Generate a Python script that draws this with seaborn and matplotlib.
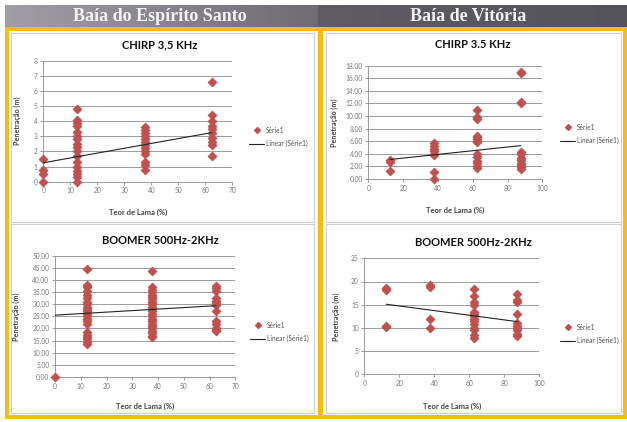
import numpy as np
import pandas as pd
import matplotlib
matplotlib.use('Agg')
import matplotlib.pyplot as plt
import seaborn as sns
from matplotlib.lines import Line2D
from matplotlib.patches import Rectangle

sns.set_theme(style='white')
plt.rcParams['font.family'] = ['Lato', 'DejaVu Sans']

# ---- data ----
# Baia do Espirito Santo - CHIRP 3,5 KHz
es_chirp_x = [0]*4 + [12.5]*17 + [37.5]*13 + [62.5]*10
es_chirp_y = [1.5, 0.8, 0.5, 0.0,
              4.8, 4.1, 3.9, 3.7, 3.3, 3.0, 2.8, 2.5, 2.3, 2.0, 1.7, 1.3, 1.0, 0.7, 0.5, 0.3, 0.0,
              3.6, 3.4, 3.2, 3.0, 2.8, 2.6, 2.4, 2.2, 2.0, 1.8, 1.3, 1.1, 0.8,
              6.6, 4.4, 4.0, 3.7, 3.5, 3.2, 2.9, 2.6, 2.4, 1.7]
es_chirp_trend_x = [0, 62.5]
es_chirp_trend_y = [1.25, 3.25]

# Baia de Vitoria - CHIRP 3.5 KHz
vi_chirp_x = [12.5]*3 + [37.5]*8 + [62.5]*14 + [87.5]*12
vi_chirp_y = [3.0, 2.7, 1.3,
              5.7, 5.2, 4.8, 4.4, 4.0, 3.8, 1.1, 0.0,
              11.0, 9.8, 9.5, 6.9, 6.6, 6.3, 6.0, 5.8, 3.9, 3.5, 2.8, 2.5, 2.0, 1.8,
              17.0, 16.8, 12.2, 12.0, 4.3, 3.9, 3.4, 3.0, 2.6, 2.2, 1.9, 1.6]
vi_chirp_trend_x = [12.5, 87.5]
vi_chirp_trend_y = [3.1, 5.3]

# Baia do Espirito Santo - BOOMER 500Hz-2KHz
es_boom_x = [0]*1 + [12.5]*22 + [37.5]*23 + [62.5]*13
es_boom_y = [0.0,
             44.5, 38, 37, 35.5, 34, 32.5, 31, 30, 29, 28, 27, 26, 25, 24, 23, 22,
             18.5, 17.5, 16.5, 15.5, 14.5, 13.8,
             43.5, 37, 36, 35, 34, 33, 32, 31, 30, 29, 28, 27, 26, 25, 24, 23, 22,
             21, 20, 19, 18, 17, 16.5,
             37.5, 36.5, 35.5, 32.5, 31.5, 30.5, 29.5, 27, 23, 22, 20, 19.5, 19]
es_boom_trend_x = [0, 62.5]
es_boom_trend_y = [25.5, 29.4]

# Baia de Vitoria - BOOMER 500Hz-2KHz
vi_boom_x = [12.5]*4 + [37.5]*4 + [62.5]*14 + [87.5]*10
vi_boom_y = [18.5, 18.2, 10.4, 10.2,
             19.2, 18.9, 11.9, 10.0,
             18.3, 16.8, 15.5, 15.0, 13.5, 13.0, 12.5, 12.0, 11.5, 10.8, 10.0, 9.5, 8.5, 7.8,
             17.4, 16.0, 15.5, 13.0, 11.0, 10.5, 10.0, 9.5, 8.7, 8.2]
vi_boom_trend_x = [12.5, 87.5]
vi_boom_trend_y = [15.1, 11.35]

W, H = 627, 422
fig = plt.figure(figsize=(W/100, H/100), dpi=100)
fig.patch.set_facecolor('white')

# ---- frame drawn in pixel coordinates ----
bg = fig.add_axes([0, 0, 1, 1])
grad = np.linspace(0, 1, 256).reshape(1, -1)
bg.imshow(grad, extent=[5, 318, 27, 5], cmap=matplotlib.colors.LinearSegmentedColormap.from_list(
    'hl', ['#a29ea8', '#6e6b73']), aspect='auto', zorder=1)
bg.imshow(grad, extent=[318, 627, 27, 5], cmap=matplotlib.colors.LinearSegmentedColormap.from_list(
    'hr', ['#5f5c64', '#55535a']), aspect='auto', zorder=1)
bg.set_xlim(0, W)
bg.set_ylim(H, 0)
bg.axis('off')
yellow = '#f4bd14'
for (x0, y0, w, h) in [(5, 27, 622, 4), (5, 27, 4, 392), (5, 415, 622, 4),
                       (623, 27, 4, 392), (318, 27, 5, 392)]:
    bg.add_patch(Rectangle((x0, y0), w, h, color=yellow, zorder=3, lw=0))
for (x0, y0, w, h) in [(11, 33, 303, 189), (326, 33, 295, 189),
                       (11, 224, 303, 189), (326, 224, 295, 189)]:
    bg.add_patch(Rectangle((x0, y0), w, h, fill=False, ec='#cfcfcf', lw=0.8, zorder=2))
bg.text(160, 16.5, 'Baía do Espírito Santo', ha='center', va='center', color='#f4f4f4',
        fontsize=13, fontweight='bold', family='Liberation Serif', zorder=4)
bg.text(468, 16.5, 'Baía de Vitória', ha='center', va='center', color='#f4f4f4',
        fontsize=13, fontweight='bold', family='Liberation Serif', zorder=4)

red = '#c0504d'


def panel(px, x, y, tx, ty, xlim, xstep, ylim, ystep, fmt, title,
          ylab_x, xlab_y, leg_xy):
    l, r, b, t = px
    ax = fig.add_axes([l/W, 1-b/H, (r-l)/W, (b-t)/H])
    df = pd.DataFrame({'x': x, 'y': y})
    sns.scatterplot(data=df, x='x', y='y', ax=ax, marker='D', color=red, s=20,
                    edgecolor=red, linewidth=0.6, zorder=3, clip_on=False)
    ax.plot(tx, ty, color='#222222', lw=0.8, zorder=4)
    ax.set_xlim(*xlim)
    ax.set_ylim(*ylim)
    ax.set_xticks(np.arange(xlim[0], xlim[1]+0.1, xstep))
    yt = np.arange(ylim[0], ylim[1]+0.01, ystep)
    ax.set_yticks(yt)
    ax.set_yticklabels([fmt.format(v) for v in yt])
    ax.grid(axis='y', color='#8c8c8c', lw=0.6)
    ax.set_axisbelow(True)
    for s in ['top', 'right']:
        ax.spines[s].set_visible(False)
    for s in ['left', 'bottom']:
        ax.spines[s].set_color('#8c8c8c')
        ax.spines[s].set_linewidth(0.6)
    ax.tick_params(axis='both', labelsize=4.8, colors='#7a7a7a', length=2,
                   width=0.5, pad=2, bottom=True, left=True)
    ax.set_facecolor('none')
    ax.set_xlabel('Teor de Lama (%)', fontsize=5.5, fontweight='bold', color='#444444')
    ax.set_ylabel('Penetração (m)', fontsize=5.2, fontweight='bold', color='#444444')
    ax.yaxis.set_label_coords(ylab_x/W, 1-(b+t)/2/H, transform=fig.transFigure)
    ax.xaxis.set_label_coords((l+r)/2/W, 1-xlab_y/H, transform=fig.transFigure)
    fig.text(title[1]/W, 1-title[2]/H, title[0],
             ha='center', va='center', fontsize=8, fontweight='bold', color='#111111')
    handles = [Line2D([], [], marker='D', color=red, ls='none', markersize=3),
               Line2D([], [], color='#222222', lw=0.8)]
    ax.legend(handles, ['Série1', 'Linear (Série1)'], loc='center left',
              bbox_to_anchor=(leg_xy[0]/W, 1-leg_xy[1]/H), bbox_transform=fig.transFigure,
              frameon=False, fontsize=4.8, labelcolor='#555555', handlelength=2.2,
              handletextpad=0.3, labelspacing=1.0, borderpad=0)
    return ax


panel((43.3, 232.3, 181.7, 60.7), es_chirp_x, es_chirp_y, es_chirp_trend_x, es_chirp_trend_y,
      (0, 70), 10, (0, 8), 1, '{:.0f}', ('CHIRP 3,5 KHz', 160, 45), 21, 209, (246, 137))
panel((368.3, 542.3, 179, 65.7), vi_chirp_x, vi_chirp_y, vi_chirp_trend_x, vi_chirp_trend_y,
      (0, 100), 20, (0, 18), 2, '{:.2f}', ('CHIRP 3.5 KHz', 473, 45), 338, 207, (557, 134))
panel((55, 235.3, 377, 255.7), es_boom_x, es_boom_y, es_boom_trend_x, es_boom_trend_y,
      (0, 70), 10, (0, 50), 5, '{:.2f}', ('BOOMER 500Hz-2KHz', 160, 240), 20, 403, (247, 332))
panel((364.3, 539.3, 374.3, 258.3), vi_boom_x, vi_boom_y, vi_boom_trend_x, vi_boom_trend_y,
      (0, 100), 20, (0, 25), 5, '{:.0f}', ('BOOMER 500Hz-2KHz', 473, 242), 340, 403, (557, 334))

fig.savefig('out.png', dpi=100, facecolor='white')
